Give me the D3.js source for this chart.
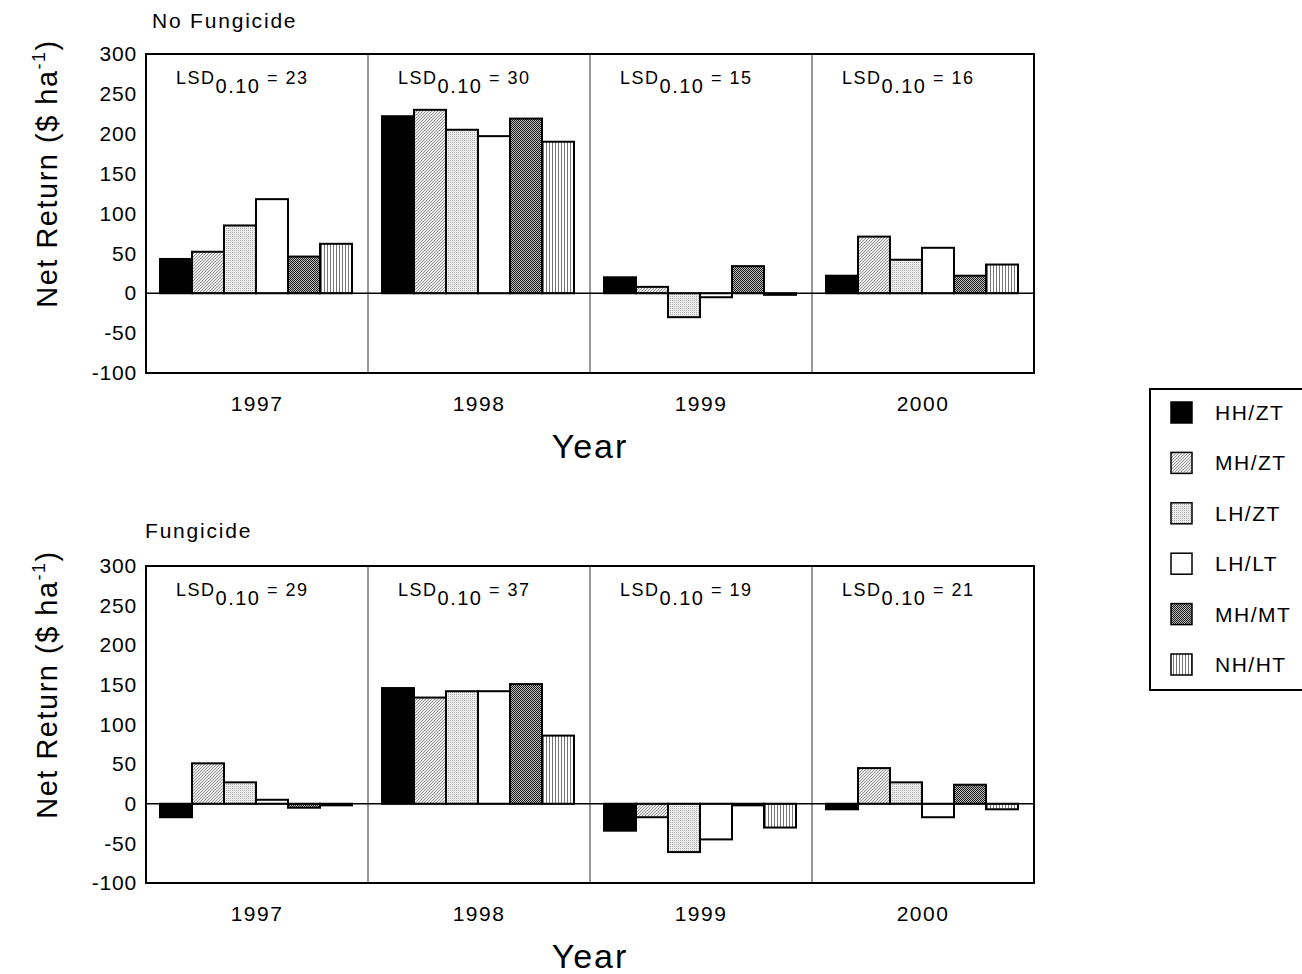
<!DOCTYPE html>
<html>
<head>
<meta charset="utf-8">
<script src="https://cdn.jsdelivr.net/npm/d3@7"></script>
<style>
  body { margin: 0; background: #fff; }
  svg { font-family: "Liberation Sans", Arial, sans-serif; }
</style>
</head>
<body>
<svg id="chart" width="1302" height="974"></svg>
<script>
const years = ["1997", "1998", "1999", "2000"];
const series = ["HH/ZT", "MH/ZT", "LH/ZT", "LH/LT", "MH/MT", "NH/HT"];
const yTicks = [-100, -50, 0, 50, 100, 150, 200, 250, 300];

// No Fungicide values: per year, per series
const noFung_HHZT = [43, 222, 20, 22];
const noFung_MHZT = [52, 230, 8, 71];
const noFung_LHZT = [85, 205, -30, 42];
const noFung_LHLT = [118, 197, -5, 57];
const noFung_MHMT = [46, 219, 34, 22];
const noFung_NHHT = [62, 190, -2, 36];
const noFungLSD = [23, 30, 15, 16];

// Fungicide values
const fung_HHZT = [-17, 146, -34, -7];
const fung_MHZT = [51, 134, -17, 45];
const fung_LHZT = [27, 142, -61, 27];
const fung_LHLT = [5, 142, -45, -17];
const fung_MHMT = [-5, 151, -2, 24];
const fung_NHHT = [-2, 86, -30, -7];
const fungLSD = [29, 37, 19, 21];

const panels = [
  { title: "No Fungicide", values: [noFung_HHZT, noFung_MHZT, noFung_LHZT, noFung_LHLT, noFung_MHMT, noFung_NHHT], lsd: noFungLSD, top: 54, bottom: 373, titleX: 152, titleY: 28 },
  { title: "Fungicide", values: [fung_HHZT, fung_MHZT, fung_LHZT, fung_LHLT, fung_MHMT, fung_NHHT], lsd: fungLSD, top: 566, bottom: 883, titleX: 145, titleY: 538 }
];

const svg = d3.select("#chart");
const defs = svg.append("defs");

// Patterns
const p1 = defs.append("pattern").attr("id", "pDiag").attr("patternUnits", "userSpaceOnUse").attr("width", 3).attr("height", 3);
p1.append("rect").attr("width", 3).attr("height", 3).attr("fill", "#e6e6e6");
p1.append("path").attr("d", "M0,3 L3,0 M-1,1 L1,-1 M2,4 L4,2").attr("stroke", "#8a8a8a").attr("stroke-width", 0.8);

const p2 = defs.append("pattern").attr("id", "pDots").attr("patternUnits", "userSpaceOnUse").attr("width", 2).attr("height", 2);
p2.append("rect").attr("width", 2).attr("height", 2).attr("fill", "#ececec");
p2.append("rect").attr("width", 1).attr("height", 1).attr("fill", "#b0b0b0");

const p3 = defs.append("pattern").attr("id", "pCheck").attr("patternUnits", "userSpaceOnUse").attr("width", 2).attr("height", 2);
p3.append("rect").attr("width", 2).attr("height", 2).attr("fill", "#bdbdbd");
p3.append("rect").attr("width", 1).attr("height", 1).attr("fill", "#1a1a1a");
p3.append("rect").attr("x", 1).attr("y", 1).attr("width", 1).attr("height", 1).attr("fill", "#1a1a1a");

const p4 = defs.append("pattern").attr("id", "pVert").attr("patternUnits", "userSpaceOnUse").attr("width", 3).attr("height", 3);
p4.append("rect").attr("width", 3).attr("height", 3).attr("fill", "#fff");
p4.append("rect").attr("width", 1).attr("height", 3).attr("fill", "#777");

const fills = ["#000", "url(#pDiag)", "url(#pDots)", "#fff", "url(#pCheck)", "url(#pVert)"];

const left = 146, right = 1034;
const x0 = d3.scaleBand().domain(years).range([left, right]).padding(0);
const x1 = d3.scaleBand().domain(series).range([14, 206]).padding(0);

panels.forEach(p => {
  const y = d3.scaleLinear().domain([-100, 300]).range([p.bottom, p.top]);
  const g = svg.append("g");

  // title
  g.append("text").attr("x", p.titleX).attr("y", p.titleY).attr("font-size", 21)
    .attr("letter-spacing", 1.8).text(p.title);

  // dividers
  years.slice(1).forEach(yr => {
    g.append("line").attr("x1", x0(yr)).attr("x2", x0(yr)).attr("y1", p.top).attr("y2", p.bottom)
      .attr("stroke", "#333").attr("stroke-width", 1);
  });

  // bars
  years.forEach((yr, yi) => {
    series.forEach((s, si) => {
      const v = p.values[si][yi];
      const xb = x0(yr) + x1(s);
      g.append("rect")
        .attr("x", xb)
        .attr("y", y(Math.max(0, v)))
        .attr("width", x1.bandwidth())
        .attr("height", Math.abs(y(v) - y(0)))
        .attr("fill", fills[si])
        .attr("stroke", "#000")
        .attr("stroke-width", 2);
    });
  });

  // zero line
  g.append("line").attr("x1", left).attr("x2", right).attr("y1", y(0)).attr("y2", y(0))
    .attr("stroke", "#000").attr("stroke-width", 1.5);

  // frame
  g.append("rect").attr("x", left).attr("y", p.top).attr("width", right - left).attr("height", p.bottom - p.top)
    .attr("fill", "none").attr("stroke", "#000").attr("stroke-width", 2);

  // y axis
  const ya = g.append("g").attr("transform", `translate(${left},0)`)
    .call(d3.axisLeft(y).tickValues(yTicks).tickSize(0).tickPadding(9).tickFormat(d => String(d)));
  ya.select(".domain").remove();
  ya.selectAll("text").attr("font-size", 21).attr("letter-spacing", 0.8).attr("fill", "#000")
    .attr("font-family", "Liberation Sans, Arial, sans-serif");

  // x axis labels
  const xa = g.append("g").attr("transform", `translate(0,${p.bottom})`)
    .call(d3.axisBottom(x0).tickSize(0).tickPadding(23));
  xa.select(".domain").remove();
  xa.selectAll("text").attr("font-size", 21).attr("letter-spacing", 1.5).attr("fill", "#000")
    .attr("font-family", "Liberation Sans, Arial, sans-serif");

  // x title
  g.append("text").attr("x", 590).attr("y", p.bottom + 85).attr("text-anchor", "middle")
    .attr("font-size", 34).attr("letter-spacing", 2).text("Year");

  // y title
  const yc = (p.top + p.bottom) / 2 - 40;
  const yt = g.append("text").attr("transform", `translate(57,${yc}) rotate(-90)`).attr("text-anchor", "middle")
    .attr("font-size", 29).attr("letter-spacing", 1.5);
  yt.append("tspan").text("Net Return ($ ha");
  yt.append("tspan").attr("dy", -12).attr("font-size", 18).text("-1");
  yt.append("tspan").attr("dy", 12).text(")");

  // LSD labels
  years.forEach((yr, yi) => {
    const t = g.append("text").attr("x", x0(yr) + 30).attr("y", p.top + 30).attr("font-size", 18)
      .attr("letter-spacing", 1.5);
    t.append("tspan").text("LSD");
    t.append("tspan").attr("dy", 9).attr("font-size", 20).text("0.10");
    t.append("tspan").attr("dy", -9).text(" = " + p.lsd[yi]);
  });
});

// legend
const lg = svg.append("g");
lg.append("rect").attr("x", 1150).attr("y", 389).attr("width", 160).attr("height", 301)
  .attr("fill", "#fff").attr("stroke", "#000").attr("stroke-width", 2);
const ly = d3.scalePoint().domain(series).range([412, 664]);
series.forEach((s, i) => {
  lg.append("rect").attr("x", 1171).attr("y", ly(s) - 10).attr("width", 21).attr("height", 21)
    .attr("fill", fills[i]).attr("stroke", "#000").attr("stroke-width", 1.5);
  lg.append("text").attr("x", 1215).attr("y", ly(s) + 8).attr("font-size", 21)
    .attr("letter-spacing", 1.5).text(s);
});
</script>
</body>
</html>
